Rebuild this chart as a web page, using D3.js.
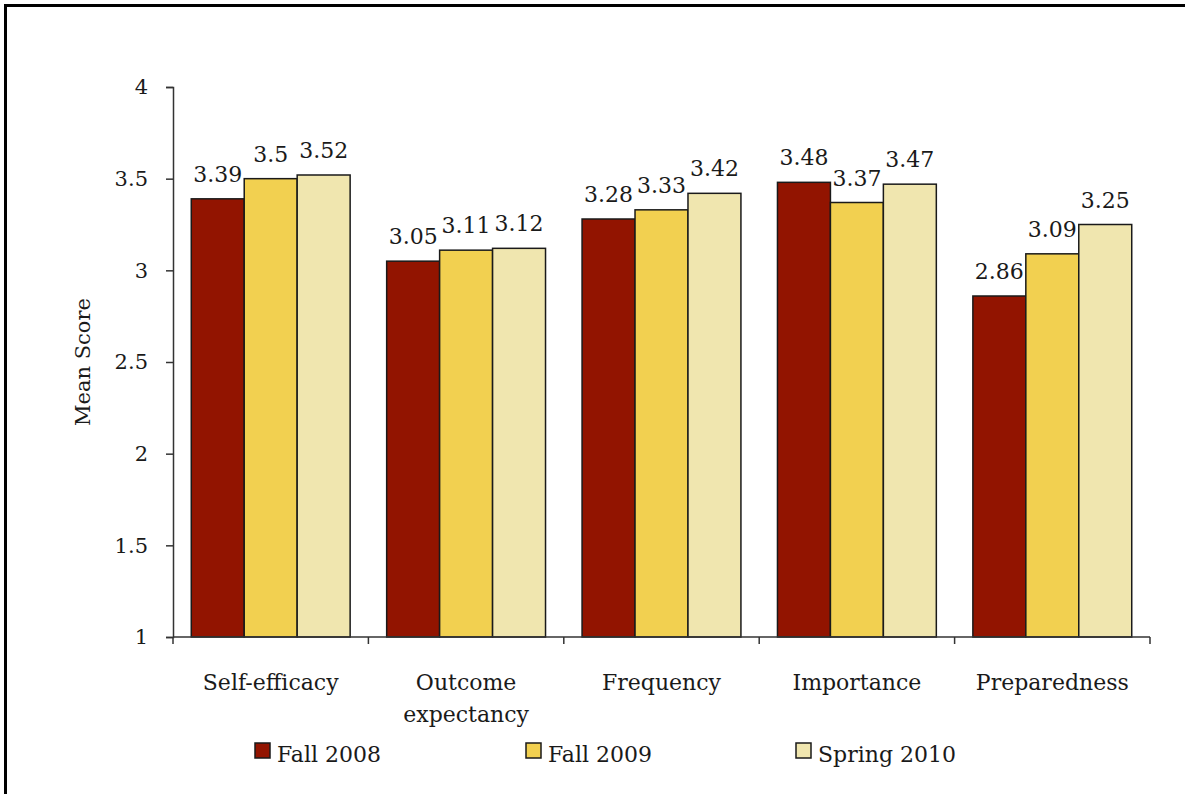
<!DOCTYPE html>
<html>
<head>
<meta charset="utf-8">
<script src="https://cdn.jsdelivr.net/npm/d3@7"></script>
<style>
  html, body { margin: 0; padding: 0; background: #fff; }
  svg { display: block; }
  text { font-family: "DejaVu Serif", serif; fill: #1a1a1a; }
</style>
</head>
<body>
<svg id="chart" width="1185" height="794"></svg>
<script>
// Survey scale means by term
const categories = ["Self-efficacy", "Outcome expectancy", "Frequency", "Importance", "Preparedness"];
const categoryLines = [["Self-efficacy"], ["Outcome", "expectancy"], ["Frequency"], ["Importance"], ["Preparedness"]];
const seriesNames = ["Fall 2008", "Fall 2009", "Spring 2010"];
const fall2008 = [3.39, 3.05, 3.28, 3.48, 2.86];
const fall2009 = [3.5, 3.11, 3.33, 3.37, 3.09];
const spring2010 = [3.52, 3.12, 3.42, 3.47, 3.25];
const yTicks = [1, 1.5, 2, 2.5, 3, 3.5, 4];
const seriesColors = ["#921400", "#F2D050", "#F0E6AF"];

const seriesValues = [fall2008, fall2009, spring2010];

const svg = d3.select("#chart");

// frame (left and top edges)
svg.append("line").attr("x1", 5.5).attr("x2", 5.5).attr("y1", 4).attr("y2", 794)
  .attr("stroke", "#000").attr("stroke-width", 3);
svg.append("line").attr("x1", 4).attr("x2", 1185).attr("y1", 5.5).attr("y2", 5.5)
  .attr("stroke", "#000").attr("stroke-width", 3);

const plotLeft = 173, plotRight = 1150, plotTop = 87, plotBottom = 637;

const y = d3.scaleLinear().domain([1, 4]).range([plotBottom, plotTop]);
const x0 = d3.scaleBand().domain(categories).range([plotLeft, plotRight]).padding(0);
const x1 = d3.scaleBand().domain(seriesNames).range([0, x0.bandwidth()])
  .paddingInner(0).paddingOuter(0.345);

// y axis
const yAxis = d3.axisLeft(y).tickValues(yTicks).tickSize(7).tickSizeOuter(7)
  .tickFormat(d3.format("~g"));
const gy = svg.append("g").attr("transform", `translate(${plotLeft},0)`).call(yAxis);
gy.select(".domain").attr("stroke", "#333").attr("stroke-width", 1.5);
gy.selectAll(".tick line").attr("stroke", "#333").attr("stroke-width", 1.5);
gy.selectAll(".tick text").attr("font-size", 21).attr("font-family", "DejaVu Serif")
  .attr("fill", "#1a1a1a").attr("x", -25);

// bars
const groups = svg.append("g").selectAll("g")
  .data(categories)
  .join("g")
  .attr("transform", d => `translate(${x0(d)},0)`);

groups.selectAll("rect")
  .data((c, i) => seriesNames.map((s, k) => ({ s, k, v: seriesValues[k][i] })))
  .join("rect")
  .attr("x", d => x1(d.s))
  .attr("y", d => y(d.v))
  .attr("width", x1.bandwidth())
  .attr("height", d => y(1) - y(d.v))
  .attr("fill", d => seriesColors[d.k])
  .attr("stroke", "#1a1a1a")
  .attr("stroke-width", 1.5);

groups.selectAll("text.val")
  .data((c, i) => seriesNames.map((s, k) => ({ s, k, v: seriesValues[k][i] })))
  .join("text")
  .attr("class", "val")
  .attr("x", d => x1(d.s) + x1.bandwidth() / 2)
  .attr("y", d => y(d.v) - 17)
  .attr("text-anchor", "middle")
  .attr("font-size", 22)
  .text(d => d3.format("~g")(d.v));

// category axis with ticks at band boundaries
const gx = svg.append("g");
gx.append("line").attr("x1", plotLeft).attr("x2", plotRight).attr("y1", plotBottom).attr("y2", plotBottom)
  .attr("stroke", "#333").attr("stroke-width", 1.5);
const boundaries = categories.map(c => x0(c)).concat([x0(categories[categories.length - 1]) + x0.bandwidth()]);
gx.selectAll("line.tk").data(boundaries).join("line").attr("class", "tk")
  .attr("x1", d => d).attr("x2", d => d).attr("y1", plotBottom).attr("y2", plotBottom + 7)
  .attr("stroke", "#333").attr("stroke-width", 1.5);

const labels = gx.selectAll("text.cat").data(categories).join("text")
  .attr("class", "cat")
  .attr("text-anchor", "middle")
  .attr("font-size", 22)
  .attr("y", 690);
labels.each(function(d, i) {
  const t = d3.select(this);
  categoryLines[i].forEach((line, j) => {
    t.append("tspan").attr("x", x0(d) + x0.bandwidth() / 2)
      .attr("dy", j === 0 ? 0 : 32).text(line);
  });
});

// y axis title
svg.append("text")
  .attr("transform", "translate(90,362) rotate(-90)")
  .attr("text-anchor", "middle")
  .attr("font-size", 21)
  .text("Mean Score");

// legend
const legendX = [255, 526, 796];
const legend = svg.append("g").selectAll("g").data(seriesNames).join("g")
  .attr("transform", (d, i) => `translate(${legendX[i]},743)`);
legend.append("rect").attr("width", 15).attr("height", 15)
  .attr("fill", (d, i) => seriesColors[i]).attr("stroke", "#1a1a1a").attr("stroke-width", 1.5);
legend.append("text").attr("x", 22).attr("y", 19).attr("font-size", 22).text(d => d);
</script>
</body>
</html>
